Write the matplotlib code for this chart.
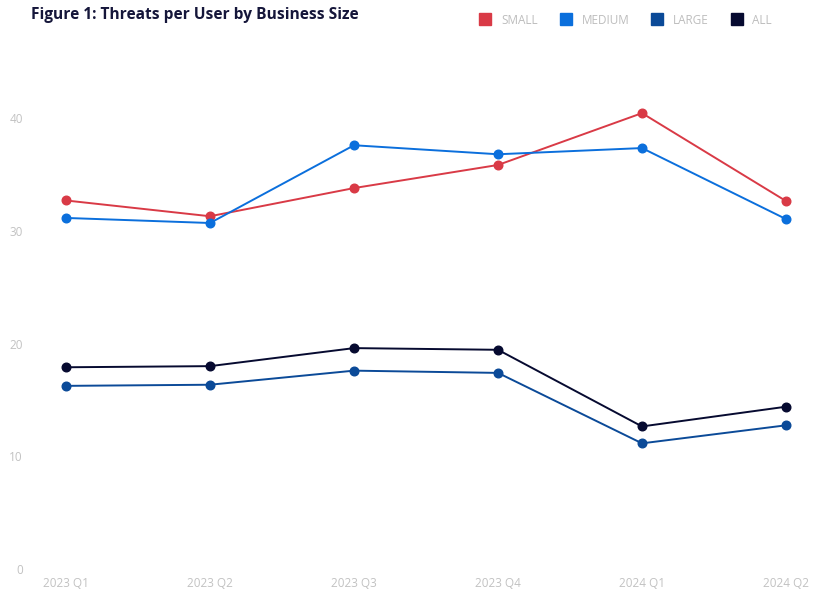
import matplotlib
matplotlib.use("Agg")
import matplotlib.pyplot as plt
from matplotlib.lines import Line2D

quarters = ["2023 Q1", "2023 Q2", "2023 Q3", "2023 Q4", "2024 Q1", "2024 Q2"]
small = [32.7, 31.3, 33.8, 35.85, 40.45, 32.65]
medium = [31.15, 30.7, 37.6, 36.8, 37.35, 31.05]
large = [16.25, 16.35, 17.6, 17.4, 11.15, 12.75]
all_sizes = [17.9, 18.0, 19.6, 19.45, 12.65, 14.4]

series = ["SMALL", "MEDIUM", "LARGE", "ALL"]
values = [small, medium, large, all_sizes]
colors = ["#d93a46", "#0b6fdc", "#0b4a98", "#060a30"]

plt.rcParams["font.family"] = ["Open Sans", "DejaVu Sans"]

fig = plt.figure(figsize=(8.30, 5.99), dpi=100)
ax = fig.add_axes([66 / 830, 30 / 599, 720 / 830, 563.5 / 599])

x = list(range(len(quarters)))
for name, vals, c in zip(series, values, colors):
    ax.plot(x, vals, color=c, linewidth=1.4, marker="o", markersize=6.2,
            clip_on=False, label=name)

ax.set_xlim(0, len(quarters) - 1)
ax.set_ylim(0, 50)
ax.set_yticks([0, 10, 20, 30, 40])
ax.set_xticks(x)
ax.set_xticklabels(quarters)
ax.tick_params(axis="both", length=0, labelsize=8.5, labelcolor="#c2c2c2")
ax.tick_params(axis="y", pad=31)
ax.tick_params(axis="x", pad=6)
for s in ax.spines.values():
    s.set_visible(False)

fig.text(31 / 830, 1 - 15 / 599, "Figure 1: Threats per User by Business Size",
         fontsize=11.2, fontweight="bold", color="#15163a", va="center", ha="left")

handles = [Line2D([], [], linestyle="none", marker="s", markersize=9,
                  markerfacecolor=c, markeredgecolor=c) for c in colors]
leg = fig.legend(handles, series, loc="center right", ncol=4, frameon=False,
                 bbox_to_anchor=(778 / 830, 1 - 20 / 599), fontsize=8.5,
                 handlelength=0.8, handletextpad=0.95, columnspacing=1.95,
                 borderpad=0)
for t in leg.get_texts():
    t.set_color("#bdbdbd")

fig.savefig("out.png", dpi=100)
